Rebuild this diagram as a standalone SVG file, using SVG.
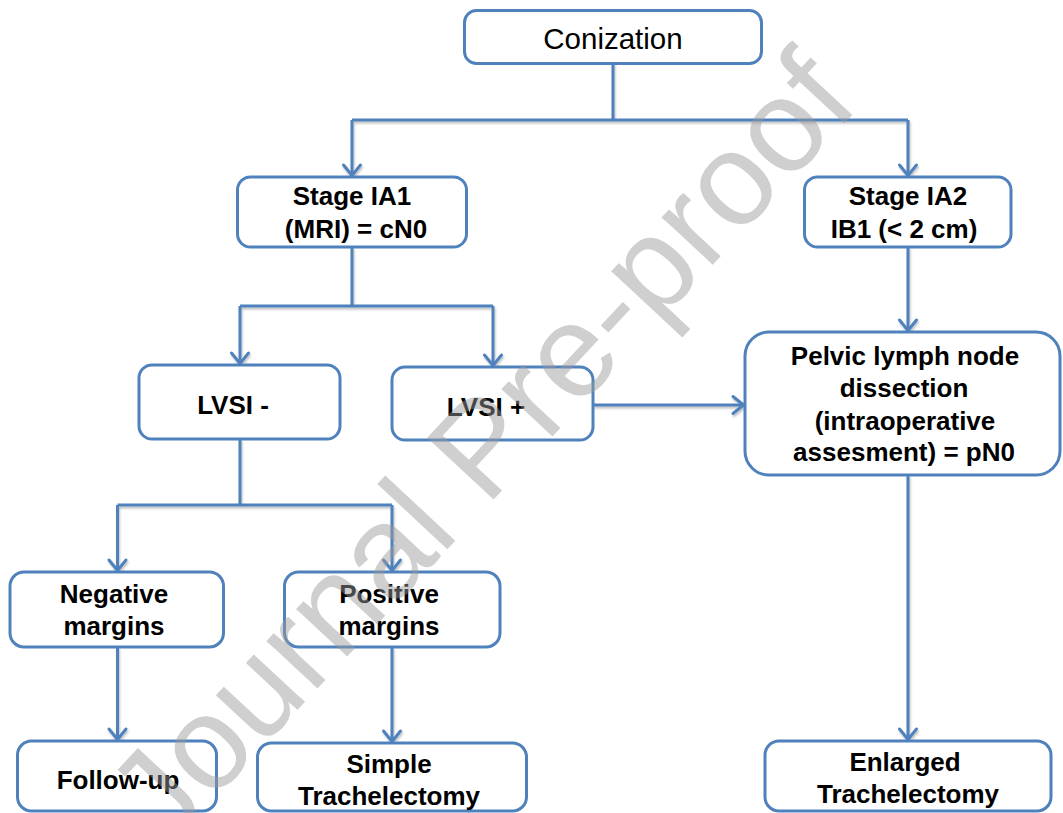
<svg xmlns="http://www.w3.org/2000/svg" width="1063" height="813" viewBox="0 0 1063 813">
<style>
.box{fill:#fff;stroke:#4f81bd;stroke-width:3}
.t{font-family:"Liberation Sans",Arial,sans-serif;font-size:26px;font-weight:bold;fill:#000;text-anchor:middle}
.tr{font-family:"Liberation Sans",Arial,sans-serif;font-size:29.5px;fill:#000;text-anchor:middle}
.c{fill:none;stroke:#4f81bd;stroke-width:3}
.wm{font-family:"Liberation Sans",Arial,sans-serif;font-size:132px;fill:#9a9a9a;fill-opacity:0.47}
</style>
<defs>
<marker id="arr" markerUnits="userSpaceOnUse" markerWidth="30" markerHeight="30" refX="0" refY="0" orient="auto" overflow="visible">
<path d="M-12,-8.5 L-1.5,0 L-12,8.5" fill="none" stroke="#4f81bd" stroke-width="3" stroke-linejoin="round" stroke-linecap="round"/>
</marker>
<filter id="sh" x="-5%" y="-5%" width="110%" height="110%">
<feDropShadow dx="1" dy="2" stdDeviation="1.2" flood-color="#000" flood-opacity="0.25"/>
</filter>
</defs>
<rect width="1063" height="813" fill="#fff"/>
<g id="connectors" class="c" filter="url(#sh)">
<path d="M613 63 V120"/>
<path d="M352 120 H908"/>
<path d="M352 120 V177" marker-end="url(#arr)"/>
<path d="M908 120 V177" marker-end="url(#arr)"/>
<path d="M352 247 V306"/>
<path d="M240 306 H493"/>
<path d="M240 306 V365" marker-end="url(#arr)"/>
<path d="M493 306 V367" marker-end="url(#arr)"/>
<path d="M240 439 V505"/>
<path d="M117.5 505 H392"/>
<path d="M117.5 505 V572" marker-end="url(#arr)"/>
<path d="M392 505 V572" marker-end="url(#arr)"/>
<path d="M117.5 647 V741" marker-end="url(#arr)"/>
<path d="M392 647 V743" marker-end="url(#arr)"/>
<path d="M593 405 H745" marker-end="url(#arr)"/>
<path d="M908 247 V332" marker-end="url(#arr)"/>
<path d="M908 475 V741" marker-end="url(#arr)"/>
</g>
<g id="conization">
<rect class="box" x="464.5" y="10.5" width="297" height="53" rx="12"/>
<text class="tr" x="613" y="49">Conization</text>
</g>
<g id="stage-ia1">
<rect class="box" x="237.5" y="177" width="229" height="70" rx="13"/>
<text class="t" x="352" y="205">Stage IA1</text>
<text class="t" x="356" y="238">(MRI) = cN0</text>
</g>
<g id="stage-ia2">
<rect class="box" x="804.5" y="177" width="206.5" height="70" rx="13"/>
<text class="t" x="908" y="205">Stage IA2</text>
<text class="t" x="904" y="238">IB1 (&lt; 2 cm)</text>
</g>
<g id="lvsi-neg">
<rect class="box" x="139" y="365" width="201" height="74" rx="13"/>
<text class="t" x="233" y="414">LVSI -</text>
</g>
<g id="lvsi-pos">
<rect class="box" x="392" y="367" width="201" height="73" rx="13"/>
<text class="t" x="486" y="416">LVSI +</text>
</g>
<g id="pelvic">
<rect class="box" x="745" y="332" width="315" height="143" rx="24"/>
<text class="t" x="905" y="365">Pelvic lymph node</text>
<text class="t" x="904" y="397">dissection</text>
<text class="t" x="905" y="430">(intraoperative</text>
<text class="t" x="904" y="461">assesment) = pN0</text>
</g>
<g id="negative-margins">
<rect class="box" x="10" y="572" width="213.5" height="75" rx="14"/>
<text class="t" x="114" y="603">Negative</text>
<text class="t" x="114" y="635">margins</text>
</g>
<g id="positive-margins">
<rect class="box" x="284.5" y="572" width="215.5" height="75" rx="14"/>
<text class="t" x="389" y="603">Positive</text>
<text class="t" x="389" y="635">margins</text>
</g>
<g id="follow-up">
<rect class="box" x="17.5" y="741" width="199" height="70" rx="14"/>
<text class="t" x="118" y="789">Follow-up</text>
</g>
<g id="simple-trachelectomy">
<rect class="box" x="257.5" y="743" width="269" height="68" rx="14"/>
<text class="t" x="389" y="773">Simple</text>
<text class="t" x="389" y="805">Trachelectomy</text>
</g>
<g id="enlarged-trachelectomy">
<rect class="box" x="765" y="741" width="286" height="70" rx="14"/>
<text class="t" x="905" y="771">Enlarged</text>
<text class="t" x="908" y="803">Trachelectomy</text>
</g>
<text class="wm" x="166" y="851" transform="rotate(-47 166 851)">Journal Pre-proof</text>
</svg>
